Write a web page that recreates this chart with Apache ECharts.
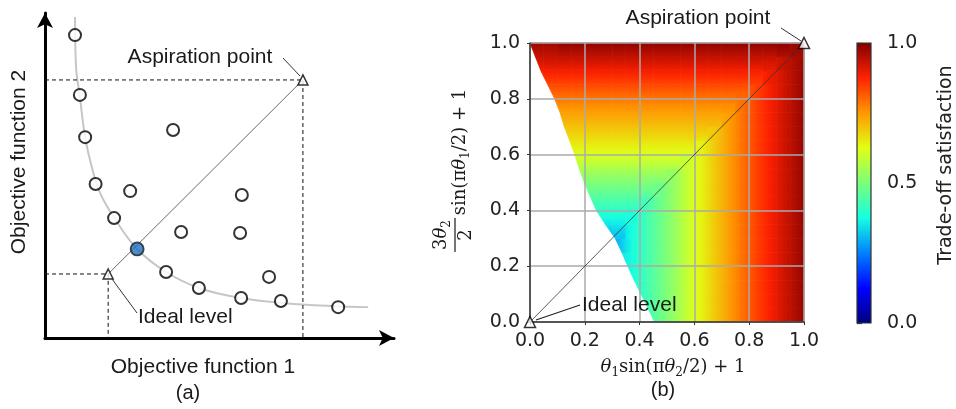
<!DOCTYPE html>
<html><head><meta charset="utf-8">
<script src="https://cdn.jsdelivr.net/npm/echarts@6/dist/echarts.min.js"></script>
<style>html,body{margin:0;padding:0;background:#fff}#c{width:956px;height:409px}</style>
</head><body><div id="c"></div>
<script>
// ===== Panel (a): objective space (arbitrary units 0..10) =====
const frontCurveX = [0.86,0.89,1.00,1.15,1.34,1.58,1.99,2.64,3.47,4.41,5.62,6.76,8.25,9.26];
const frontCurveY = [9.88,8.34,7.42,6.18,5.26,4.46,3.69,2.74,2.03,1.54,1.23,1.08,0.98,0.95];
const solutionsX = [0.86,1.00,1.15,1.45,1.98,2.44,3.67,3.90,5.64,5.59,3.47,4.41,5.62,6.42,6.76,8.40];
const solutionsY = [9.32,7.48,6.18,4.74,3.69,4.52,6.40,3.26,4.40,3.23,2.03,1.54,1.23,1.88,1.14,0.95];
const selectedX = [2.64];
const selectedY = [2.74];
const aspirationA = [7.39, 7.94];
const idealA = [1.81, 1.97];

// ===== Panel (b): normalized objective space =====
const cellEdges = [0,0.05,0.1,0.15,0.2,0.25,0.3,0.35,0.4,0.45,0.5,0.55,0.6,0.65,0.7,0.75,0.8,0.85,0.9,0.95,1.0];
// left edge of the attainable region at each y edge (y = 0 ... 1)
const frontierX = [0.455,0.43,0.405,0.38,0.357,0.335,0.311,0.275,0.242,0.22,0.198,0.18,0.163,0.145,0.125,0.11,0.09,0.065,0.04,0.02,0.0];
// trade-off satisfaction read per 0.05 cell; rows from y=0 (bottom) to y=1 (top), columns x=0..1
const satisfaction = [
 [null,null,null,null,null,null,null,null,.43,.48,.53,.59,.64,.69,.74,.79,.84,.88,.92,.96],
 [null,null,null,null,null,null,null,null,.43,.48,.53,.59,.64,.69,.74,.79,.84,.88,.92,.96],
 [null,null,null,null,null,null,null,.38,.43,.48,.53,.59,.64,.69,.74,.79,.84,.88,.92,.96],
 [null,null,null,null,null,null,null,.38,.43,.48,.53,.59,.64,.69,.74,.79,.84,.88,.92,.96],
 [null,null,null,null,null,null,.34,.38,.43,.48,.53,.59,.64,.69,.74,.79,.84,.88,.92,.96],
 [null,null,null,null,null,null,.31,.38,.43,.48,.53,.59,.64,.69,.74,.79,.84,.88,.92,.96],
 [null,null,null,null,null,.32,.33,.38,.43,.48,.53,.59,.64,.69,.74,.79,.84,.88,.92,.96],
 [null,null,null,null,.38,.38,.38,.38,.43,.48,.53,.59,.64,.69,.74,.79,.84,.88,.92,.96],
 [null,null,null,null,.43,.43,.43,.43,.43,.48,.53,.59,.64,.69,.74,.79,.84,.88,.92,.96],
 [null,null,null,.48,.48,.48,.48,.48,.48,.48,.53,.59,.64,.69,.74,.79,.84,.88,.92,.96],
 [null,null,null,.53,.53,.53,.53,.53,.53,.53,.53,.59,.64,.69,.74,.79,.84,.88,.92,.96],
 [null,null,null,.59,.59,.59,.59,.59,.59,.59,.59,.59,.64,.69,.74,.79,.84,.88,.92,.96],
 [null,null,.64,.64,.64,.64,.64,.64,.64,.64,.64,.64,.64,.69,.74,.79,.84,.88,.92,.96],
 [null,null,.68,.68,.68,.68,.68,.68,.68,.68,.68,.68,.68,.69,.74,.79,.84,.88,.92,.96],
 [null,null,.72,.72,.72,.72,.72,.72,.72,.72,.72,.72,.72,.72,.74,.79,.84,.88,.92,.96],
 [null,.76,.76,.76,.76,.76,.76,.76,.76,.76,.76,.76,.76,.76,.76,.79,.84,.88,.92,.96],
 [null,.81,.81,.81,.81,.81,.81,.81,.81,.81,.81,.81,.81,.81,.81,.81,.84,.88,.92,.96],
 [.86,.86,.86,.86,.86,.86,.86,.86,.86,.86,.86,.86,.86,.86,.86,.86,.86,.89,.92,.96],
 [.91,.91,.91,.91,.91,.91,.91,.91,.91,.91,.91,.91,.91,.91,.91,.91,.91,.91,.93,.96],
 [.95,.95,.96,.96,.96,.96,.96,.96,.96,.96,.96,.96,.96,.96,.96,.96,.96,.96,.97,.97]
];
const idealB = [0, 0];
const aspirationB = [1, 1];
const colorbarTicks = [0, 0.5, 1];
const jetColors = ['#000080','#0000ff','#0080ff','#14ffe2','#7bff7b','#e2ff14','#ff9700','#ff2100','#800000'];

// ---- colour scale (jet) ----
const jetRGB = jetColors.map(h => [parseInt(h.slice(1,3),16), parseInt(h.slice(3,5),16), parseInt(h.slice(5,7),16)]);
function jet(t) {
  t = Math.max(0, Math.min(1, t));
  const f = t * (jetRGB.length - 1), i = Math.min(Math.floor(f), jetRGB.length - 2), u = f - i;
  const a = jetRGB[i], b = jetRGB[i + 1];
  return 'rgb(' + [0,1,2].map(k => Math.round(a[k] + (b[k] - a[k]) * u)).join(',') + ')';
}
function sat(r, c) {
  if (r < 0 || r >= satisfaction.length || c < 0 || c >= satisfaction[r].length) return null;
  return satisfaction[r][c];
}
function edgeVal(v, near, far) {
  if (near != null) return (v + near) / 2;
  if (far != null) return v - (far - v) / 2;
  return v;
}

// ---- build series data ----
const curveData = frontCurveX.map((x, i) => [x, frontCurveY[i]]);
const solData = solutionsX.map((x, i) => [x, solutionsY[i]]);
const selData = selectedX.map((x, i) => [x, selectedY[i]]);
const cellData = [];
for (let r = 0; r < satisfaction.length; r++) {
  for (let c = 0; c < satisfaction[r].length; c++) {
    const v = satisfaction[r][c];
    if (v == null) continue;
    cellData.push([cellEdges[c], cellEdges[c+1], cellEdges[r], cellEdges[r+1], v, frontierX[r], frontierX[r+1], r, c]);
  }
}

function renderCell(params, api) {
  const xa = api.value(0), xc = api.value(1), y0 = api.value(2), y1 = api.value(3);
  const v = api.value(4), b0 = api.value(5), b1 = api.value(6), r = api.value(7), c = api.value(8);
  const L = y => b0 + (b1 - b0) * (y - y0) / (y1 - y0);
  const poly = [[xa, y0], [xc, y0], [xc, y1], [xa, y1]];
  const out = [];
  for (let i = 0; i < 4; i++) {
    const cur = poly[i], prev = poly[(i + 3) % 4];
    const hc = cur[0] - L(cur[1]), hp = prev[0] - L(prev[1]);
    const cross = () => { const t = hp / (hp - hc); return [prev[0] + t * (cur[0] - prev[0]), prev[1] + t * (cur[1] - prev[1])]; };
    if (hc >= 0) { if (hp < 0) out.push(cross()); out.push(cur); }
    else if (hp >= 0) out.push(cross());
  }
  if (out.length < 3) return null;
  const vl = edgeVal(v, sat(r, c - 1), sat(r, c + 1));
  const vr = edgeVal(v, sat(r, c + 1), sat(r, c - 1));
  const vb = edgeVal(v, sat(r - 1, c), sat(r + 1, c));
  const vt = edgeVal(v, sat(r + 1, c), sat(r - 1, c));
  const p0 = api.coord([xa, y0]), p1 = api.coord([xc, y1]);
  let grad;
  if (Math.abs(vr - vl) >= Math.abs(vt - vb)) {
    grad = new echarts.graphic.LinearGradient(p0[0], 0, p1[0], 0,
      [{ offset: 0, color: jet(vl) }, { offset: 0.5, color: jet(v) }, { offset: 1, color: jet(vr) }], true);
  } else {
    grad = new echarts.graphic.LinearGradient(0, p0[1], 0, p1[1],
      [{ offset: 0, color: jet(vb) }, { offset: 0.5, color: jet(v) }, { offset: 1, color: jet(vt) }], true);
  }
  return { type: 'polygon', shape: { points: out.map(p => api.coord(p)) },
           style: { fill: grad, stroke: grad, lineWidth: 0.8 } };
}

const sans = 'Liberation Sans, Arial, sans-serif';
const dv = 'DejaVu Sans, sans-serif';
const serif = 'DejaVu Serif, serif';
const txtCol = '#1a1a1a';
const mathRich = {
  i: { fontFamily: serif, fontStyle: 'italic', fontSize: 18, fill: txtCol, lineHeight: 24 },
  s: { fontFamily: serif, fontSize: 12, fill: txtCol, verticalAlign: 'bottom', lineHeight: 14 },
  n: { fontFamily: serif, fontSize: 18, fill: txtCol, lineHeight: 24 }
};
function tx(text, x, y, opt) {
  return { type: 'text', x: x, y: y, z: 50,
    style: Object.assign({ text: text, fill: txtCol, font: '21px ' + sans, align: 'center', verticalAlign: 'middle' }, opt || {}) };
}
function ln(x1, y1, x2, y2, col, w) {
  return { type: 'line', z: 50, shape: { x1, y1, x2, y2 }, style: { stroke: col || '#222', lineWidth: w || 1 } };
}

const chart = echarts.init(document.getElementById('c'), null, { renderer: 'canvas' });
chart.setOption({
  animation: false,
  backgroundColor: '#fff',
  grid: [
    { left: 45, top: 13, width: 349, height: 325 },
    { left: 530, top: 43, width: 274, height: 279 },
    { left: 857, top: 43, width: 14, height: 280 }
  ],
  xAxis: [
    { gridIndex: 0, type: 'value', min: 0, max: 10,
      axisLine: { show: true, symbol: ['none', 'arrow'], symbolSize: [12, 15], lineStyle: { color: '#000', width: 3 } },
      axisTick: { show: false }, axisLabel: { show: false }, splitLine: { show: false } },
    { gridIndex: 1, type: 'value', min: 0, max: 1, interval: 0.2, z: 3,
      axisLine: { lineStyle: { color: '#333', width: 1.5 } },
      axisTick: { show: true, length: 3, lineStyle: { color: '#333' } },
      axisLabel: { fontFamily: dv, fontSize: 19, color: '#222', margin: 10, formatter: v => v.toFixed(1) },
      splitLine: { show: true, lineStyle: { color: '#aaaaaa', width: 1.5 } } },
    { gridIndex: 2, type: 'value', min: 0, max: 1, show: false }
  ],
  yAxis: [
    { gridIndex: 0, type: 'value', min: 0, max: 10,
      axisLine: { show: true, symbol: ['none', 'arrow'], symbolSize: [12, 15], lineStyle: { color: '#000', width: 3 } },
      axisTick: { show: false }, axisLabel: { show: false }, splitLine: { show: false } },
    { gridIndex: 1, type: 'value', min: 0, max: 1, interval: 0.2, z: 3,
      axisLine: { lineStyle: { color: '#333', width: 1.5 } },
      axisTick: { show: true, length: 3, lineStyle: { color: '#333' } },
      axisLabel: { fontFamily: dv, fontSize: 19, color: '#222', margin: 10, formatter: v => v.toFixed(1) },
      splitLine: { show: true, lineStyle: { color: '#aaaaaa', width: 1.5 } } },
    { gridIndex: 2, type: 'value', min: colorbarTicks[0], max: colorbarTicks[2], interval: colorbarTicks[1] - colorbarTicks[0], position: 'right',
      axisLine: { show: false },
      axisTick: { show: true, length: 5, lineStyle: { color: '#333', width: 1.2 } },
      axisLabel: { fontFamily: dv, fontSize: 19, color: '#222', margin: 16, formatter: v => v.toFixed(1) },
      splitLine: { show: false } }
  ],
  series: [
    { type: 'line', xAxisIndex: 0, yAxisIndex: 0, data: curveData, smooth: 0.4, symbol: 'none', clip: false,
      lineStyle: { color: '#c6c6c6', width: 2 }, z: 1 },
    { type: 'line', xAxisIndex: 0, yAxisIndex: 0, symbol: 'none', clip: false,
      data: [[0, aspirationA[1]], [aspirationA[0], aspirationA[1]], [aspirationA[0], 0]],
      lineStyle: { color: '#111', width: 1, type: [4, 3] }, z: 2 },
    { type: 'line', xAxisIndex: 0, yAxisIndex: 0, symbol: 'none', clip: false,
      data: [[0, idealA[1]], [idealA[0], idealA[1]], [idealA[0], 0]],
      lineStyle: { color: '#111', width: 1, type: [4, 3] }, z: 2 },
    { type: 'line', xAxisIndex: 0, yAxisIndex: 0, symbol: 'none', clip: false,
      data: [idealA, aspirationA], lineStyle: { color: '#444', width: 0.8 }, z: 2 },
    { type: 'scatter', xAxisIndex: 0, yAxisIndex: 0, data: solData, symbol: 'circle', symbolSize: 12,
      itemStyle: { color: '#fff', borderColor: '#000', borderWidth: 2 }, z: 4 },
    { type: 'scatter', xAxisIndex: 0, yAxisIndex: 0, data: selData, symbol: 'circle', symbolSize: 13,
      itemStyle: { color: '#1f70c1', borderColor: '#1b1b1b', borderWidth: 1.8 }, z: 5 },
    { type: 'scatter', xAxisIndex: 0, yAxisIndex: 0, data: [idealA, aspirationA], symbol: 'triangle', symbolSize: 10,
      itemStyle: { color: '#fff', borderColor: '#000', borderWidth: 1.5 }, z: 5 },
    { type: 'custom', xAxisIndex: 1, yAxisIndex: 1, data: cellData, renderItem: renderCell, z: 1,
      encode: { x: [0, 1], y: [2, 3] } },
    { type: 'line', xAxisIndex: 1, yAxisIndex: 1, symbol: 'none', clip: false,
      data: [idealB, aspirationB], lineStyle: { color: '#333', width: 0.8 }, z: 6 },
    { type: 'scatter', xAxisIndex: 1, yAxisIndex: 1, data: [idealB, aspirationB], symbol: 'triangle', symbolSize: 11, clip: false,
      itemStyle: { color: '#fff', borderColor: '#000', borderWidth: 1.5 }, z: 7 }
  ],
  graphic: [
    // panel (a) annotations
    tx('Aspiration point', 200, 57),
    ln(283, 58, 300, 76, '#333', 1),
    tx('Ideal level', 138, 317, { align: 'left' }),
    ln(112, 279, 137, 313, '#333', 1),
    tx('Objective function 1', 203, 367),
    tx('(a)', 188, 393, { font: '20px ' + sans }),
    Object.assign(tx('Objective function 2', 19, 162), { rotation: Math.PI / 2 }),
    // panel (b) annotations
    tx('Aspiration point', 698, 18),
    ln(781, 28, 801, 41, '#333', 1),
    tx('Ideal level', 582, 305, { align: 'left' }),
    ln(536, 320, 580, 305, '#222', 1.2),
    tx('{i|θ}{s|1}{n|sin(π}{i|θ}{s|2}{n|/2) + 1}', 673, 367, { rich: mathRich }),
    tx('(b)', 663, 390, { font: '20px ' + sans }),
    Object.assign(tx('{n|3}{i|θ}{s|2}', 441, 235, { rich: mathRich }), { rotation: Math.PI / 2 }),
    ln(455, 218, 455, 252, '#1a1a1a', 1.2),
    Object.assign(tx('{n|2}', 466, 235, { rich: mathRich }), { rotation: Math.PI / 2 }),
    Object.assign(tx('{n|sin(π}{i|θ}{s|1}{n|/2) + 1}', 460, 152, { rich: mathRich }), { rotation: Math.PI / 2 }),
    // colorbar
    { type: 'rect', z: 40, shape: { x: 857, y: 43, width: 14, height: 280 },
      style: { fill: new echarts.graphic.LinearGradient(0, 1, 0, 0, jetColors.map((c, i) => ({ offset: i / (jetColors.length - 1), color: c }))),
               stroke: '#333', lineWidth: 1.2 } },
    Object.assign(tx('Trade-off satisfaction', 946, 165, { font: '19px ' + dv, fill: '#222' }), { rotation: Math.PI / 2 })
  ]
});
</script></body></html>
